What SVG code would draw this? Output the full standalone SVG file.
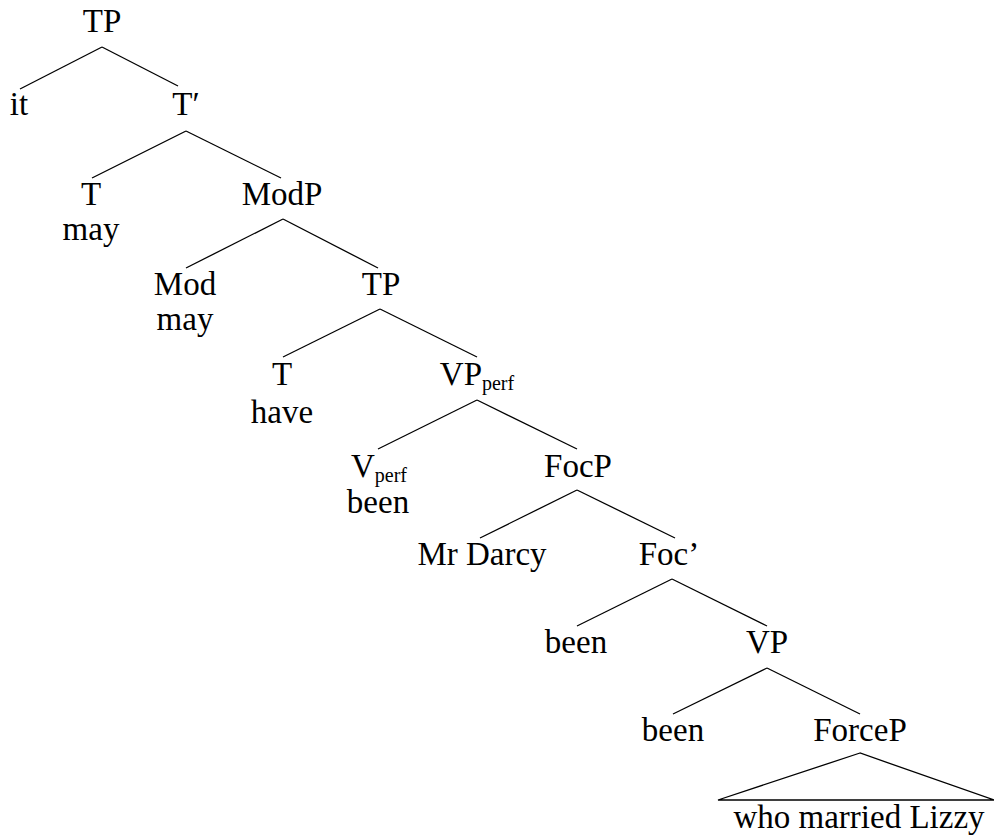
<svg xmlns="http://www.w3.org/2000/svg" width="994" height="839" viewBox="0 0 994 839">
<style>
text{font-family:"Liberation Serif","Times New Roman",serif;font-size:33px;fill:#000;text-anchor:middle}
.sub{font-size:20px}
#edges line,#edges polygon{stroke:#000;stroke-width:1.3;fill:none}
</style>
<rect width="994" height="839" fill="#fff"/>
<g id="edges">
<line x1="102" y1="47" x2="20" y2="89"/>
<line x1="102" y1="47" x2="178" y2="86"/>
<line x1="186" y1="131" x2="92" y2="178"/>
<line x1="186" y1="131" x2="281" y2="178"/>
<line x1="283" y1="219" x2="186" y2="268"/>
<line x1="283" y1="219" x2="378" y2="268"/>
<line x1="380" y1="309" x2="283" y2="357"/>
<line x1="380" y1="309" x2="477" y2="357"/>
<line x1="477" y1="400" x2="378" y2="449"/>
<line x1="477" y1="400" x2="577" y2="449"/>
<line x1="577" y1="490" x2="480" y2="538"/>
<line x1="577" y1="490" x2="675" y2="538"/>
<line x1="672" y1="579" x2="577" y2="626"/>
<line x1="672" y1="579" x2="767" y2="626"/>
<line x1="767" y1="668" x2="673" y2="714"/>
<line x1="767" y1="668" x2="860" y2="714"/>
<polygon points="860,753 718,800 994,800"/>
</g>
<g id="n-tp1"><text x="102" y="32">TP</text></g>
<g id="n-it"><text x="19" y="115">it</text></g>
<g id="n-tbar"><text x="186" y="115">T′</text></g>
<g id="n-t1"><text x="91" y="205">T</text><text x="91" y="240">may</text></g>
<g id="n-modp"><text x="282" y="205">ModP</text></g>
<g id="n-mod"><text x="185" y="295">Mod</text><text x="185" y="330">may</text></g>
<g id="n-tp2"><text x="381" y="295">TP</text></g>
<g id="n-t2"><text x="282" y="385">T</text><text x="282" y="423">have</text></g>
<g id="n-vpperf"><text x="477" y="385">VP<tspan class="sub" dy="5">perf</tspan></text></g>
<g id="n-vperf"><text x="379" y="477">V<tspan class="sub" dy="5">perf</tspan></text><text x="378" y="513">been</text></g>
<g id="n-focp"><text x="578" y="477">FocP</text></g>
<g id="n-darcy"><text x="482" y="565">Mr Darcy</text></g>
<g id="n-focbar"><text x="669" y="565">Foc’</text></g>
<g id="n-been1"><text x="576" y="653">been</text></g>
<g id="n-vp"><text x="767" y="653">VP</text></g>
<g id="n-been2"><text x="673" y="741">been</text></g>
<g id="n-forcep"><text x="860" y="741">ForceP</text></g>
<g id="n-who"><text x="859" y="828">who married Lizzy</text></g>
</svg>
